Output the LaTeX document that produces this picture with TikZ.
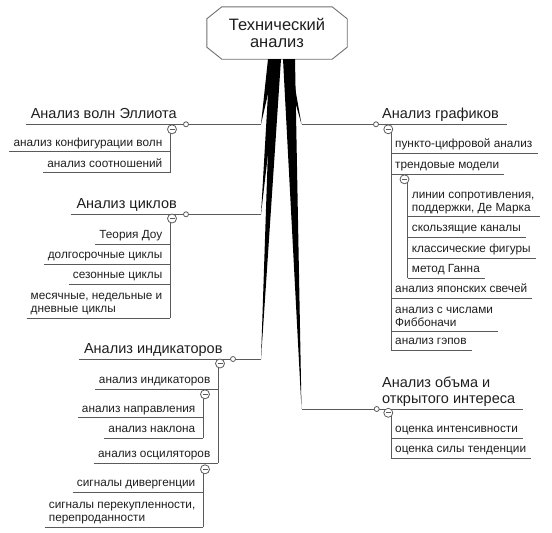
\documentclass[tikz,border=0pt]{standalone}
\usepackage{fontspec}
\setmainfont{Liberation Sans}
\definecolor{lineg}{HTML}{5A5A5A}
\definecolor{boxg}{HTML}{707070}
\definecolor{txt}{HTML}{1E1E1E}
\tikzset{
  uline/.style={draw=lineg, line width=0.9pt},
  leaffont/.style={font=\fontsize{11.8}{13}\selectfont, text=txt},
  leafL/.style={leaffont, inner sep=0pt, text depth=0pt, align=left, anchor=south east, xshift=-7.5pt, yshift=5.5pt,
     append after command={([shift={(-4pt,-5.5pt)}]\tikzlastnode.south west) edge[uline] ([shift={(7.5pt,-5.5pt)}]\tikzlastnode.south east)}},
  leafR/.style={leaffont, inner sep=0pt, text depth=0pt, align=left, anchor=south west, xshift=4pt, yshift=5.5pt,
     append after command={([shift={(-4pt,-5.5pt)}]\tikzlastnode.south west) edge[uline] ([shift={(5pt,-5.5pt)}]\tikzlastnode.south east)}},
  mainfont/.style={font=\fontsize{14.5}{15.5}\selectfont, text=txt},
  mainL/.style={mainfont, inner sep=0pt, text depth=0pt, anchor=south east, yshift=5.5pt},
  mainR/.style={mainfont, inner sep=0pt, text depth=0pt, align=left, anchor=south west, yshift=5.5pt},
  knob/.style={circle, draw=lineg, fill=white, line width=0.8pt, inner sep=0pt, minimum size=5pt},
  collapse/.style={circle, draw=lineg, fill=white, line width=0.8pt, inner sep=0pt, minimum size=9pt,
     path picture={\draw[lineg, line width=0.8pt] ([xshift=-2.5pt]path picture bounding box.center) -- ([xshift=2.5pt]path picture bounding box.center);}},
  wedge/.style={fill=black},
}
\begin{document}
\begin{tikzpicture}[x=1pt,y=-1pt]
\useasboundingbox (0,0) rectangle (552,533);
% central topic
\node[font=\fontsize{16.5}{17.5}\selectfont, text=txt, align=center, minimum width=140pt, minimum height=52pt, inner sep=0pt] (T) at (277,33) {Технический\\анализ};
\draw[draw=boxg, line width=0.9pt] ([xshift=15pt]T.north west) -- ([xshift=-15pt]T.north east) -- ([yshift=-12pt]T.north east) -- ([yshift=12pt]T.south east) -- ([xshift=-15pt]T.south east) -- ([xshift=15pt]T.south west) -- ([yshift=12pt]T.south west) -- ([yshift=-12pt]T.north west) -- cycle;
% junctions
\coordinate (jEL) at (261,124.3);
\coordinate (jCY) at (261,214.3);
\coordinate (jIN) at (261,359);
\coordinate (jGR) at (301.5,124.3);
\coordinate (jVO) at (301.5,409);
% wedges
\fill[wedge] (268,59) -- (276,59) -- (jEL) -- cycle;
\fill[wedge] (270,59) -- (279,59) -- (jCY) -- cycle;
\fill[wedge] (271,59) -- (281,59) -- (jIN) -- cycle;
\fill[wedge] (283,59) -- (290,59) -- (jGR) -- cycle;
\fill[wedge] (283,59) -- (295,59) -- (jVO) -- cycle;
% main topics
\node[mainL] (EL) at (177,124.3) {Анализ волн Эллиота};
\node[mainL] (CY) at (177,214.3) {Анализ циклов};
\node[mainL] (IN) at (222.7,359) {Анализ индикаторов};
\node[mainR] (GR) at (382,124.3) {Анализ графиков};
\node[mainR] (VO) at (382,409) {Анализ объма и\\открытого интереса};
\draw[uline] ([shift={(-5pt,-5.5pt)}]EL.south west) -- (jEL);
\draw[uline] ([shift={(-5pt,-5.5pt)}]CY.south west) -- (jCY);
\draw[uline] ([shift={(-5pt,-5.5pt)}]IN.south west) -- (jIN);
\draw[uline] (jGR) -- ([shift={(8pt,-5.5pt)}]GR.south east);
\draw[uline] (jVO) -- ([shift={(8pt,-5.5pt)}]VO.south east);
% vertical stems
\draw[uline] (170,129.3) -- (170,172.7);
\draw[uline] (170,218.5) -- (170,318.3);
\draw[uline] (218,363.5) -- (218,463);
\draw[uline] (203,394.3) -- (203,438.3);
\draw[uline] (203,469.3) -- (203,527);
\draw[uline] (391,129.3) -- (391,350);
\draw[uline] (407.7,179.3) -- (407.7,278.3);
\draw[uline] (391,412.8) -- (391,458.3);
% Elliott
\node[leafL] (e1) at (170,151.7) {анализ конфигурации волн};
\node[leafL] (e2) at (170,172.7) {анализ соотношений};
% cycles
\node[leafL] (c1) at (170,244.3) {Теория Доу};
\node[leafL] (c2) at (170,264) {долгосрочные циклы};
\node[leafL] (c3) at (170,284.3) {сезонные циклы};
\node[leafL] (c4) at (170,318.3) {месячные, недельные и\\дневные циклы};
% indicators
\node[leafL] (i1) at (218,389) {анализ индикаторов};
\node[leafL] (i11) at (203,417.7) {анализ направления};
\node[leafL] (i12) at (203,438.3) {анализ наклона};
\node[leafL] (i2) at (218,463) {анализ осциляторов};
\node[leafL] (i21) at (203,492.3) {сигналы дивергенции};
\node[leafL] (i22) at (203,527) {сигналы перекупленности,\\перепроданности};
% charts
\node[leafR] (g1) at (391,153.3) {пункто-цифровой анализ};
\node[leafR] (g2) at (391,174) {трендовые модели};
\node[leafR] (g21) at (407.7,216.7) {линии сопротивления,\\поддержки, Де Марка};
\node[leafR] (g22) at (407.7,237.3) {скользящие каналы};
\node[leafR] (g23) at (407.7,258.3) {классические фигуры};
\node[leafR] (g24) at (407.7,278.3) {метод Ганна};
\node[leafR] (g3) at (391,298.3) {анализ японских свечей};
\node[leafR] (g4) at (391,331.7) {анализ с числами\\Фиббоначи};
\node[leafR] (g5) at (391,350) {анализ гэпов};
% volume
\node[leafR] (v1) at (391,438.3) {оценка интенсивности};
\node[leafR] (v2) at (391,458.3) {оценка силы тенденции};
% knobs
\node[knob] (kEL) at (186,124.3) {};
\node[knob] (kCY) at (186,214.3) {};
\node[knob] (kIN) at (233,359) {};
\node[knob] (kGR) at (376,124.3) {};
\node[knob] (kVO) at (376.7,409) {};
% collapse markers
\node[collapse] (mEL) at (172,129.3) {};
\node[collapse] (mCY) at (172,218.5) {};
\node[collapse] (mIN) at (220,363.5) {};
\node[collapse] (mI1) at (205,394.3) {};
\node[collapse] (mI2) at (205,469.3) {};
\node[collapse] (mGR) at (388.3,129.3) {};
\node[collapse] (mG2) at (404.5,179.3) {};
\node[collapse] (mVO) at (388.3,412.8) {};
\end{tikzpicture}
\end{document}
